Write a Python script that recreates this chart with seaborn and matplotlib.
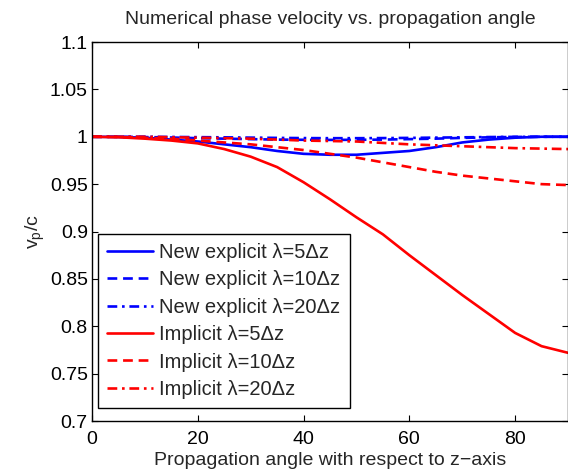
import numpy as np
import pandas as pd
import seaborn as sns
import matplotlib.pyplot as plt

angle = [0, 5, 10, 15, 20, 25, 30, 35, 40, 45, 50, 55, 60, 65, 70, 75, 80, 85, 90]

expl_5 = [1.0, 0.9998, 0.999, 0.997, 0.995, 0.992, 0.989, 0.985, 0.982, 0.981,
          0.981, 0.983, 0.985, 0.989, 0.994, 0.997, 0.999, 1.0, 1.0]
expl_10 = [1.0, 1.0, 0.9997, 0.9992, 0.9985, 0.998, 0.9975, 0.997, 0.9968, 0.9967,
           0.9968, 0.997, 0.9975, 0.998, 0.9988, 0.9994, 0.9998, 1.0, 1.0]
expl_20 = [1.0, 1.0, 1.0, 0.9998, 0.9996, 0.9994, 0.9991, 0.9988, 0.9986, 0.9985,
           0.9985, 0.9986, 0.9988, 0.9991, 0.9994, 0.9997, 0.9999, 1.0, 1.0]
impl_5 = [1.0, 0.9995, 0.998, 0.996, 0.993, 0.987, 0.979, 0.968, 0.952, 0.934,
          0.915, 0.897, 0.875, 0.854, 0.833, 0.813, 0.793, 0.779, 0.772]
impl_10 = [1.0, 0.9998, 0.999, 0.998, 0.996, 0.994, 0.992, 0.989, 0.986, 0.982,
           0.978, 0.973, 0.968, 0.963, 0.959, 0.956, 0.953, 0.950, 0.949]
impl_20 = [1.0, 1.0, 1.0, 0.9995, 0.999, 0.9985, 0.998, 0.997, 0.996, 0.9955,
           0.995, 0.9935, 0.992, 0.991, 0.990, 0.989, 0.988, 0.9875, 0.987]

labels = ["New explicit \u03bb=5\u0394z", "New explicit \u03bb=10\u0394z", "New explicit \u03bb=20\u0394z",
          "Implicit \u03bb=5\u0394z", "Implicit \u03bb=10\u0394z", "Implicit \u03bb=20\u0394z"]
series = [expl_5, expl_10, expl_20, impl_5, impl_10, impl_20]
colors = ["#0000ff", "#0000ff", "#0000ff", "#ff0000", "#ff0000", "#ff0000"]
solid = "-"
dashed = (0, (3.7, 2.2))
dashdot = (0, (3.7, 1.8, 1.0, 1.8))
styles = [solid, dashed, dashdot, solid, dashed, dashdot]

sns.set_style("ticks")
plt.rcParams['font.family'] = ['Liberation Sans', 'DejaVu Sans']
plt.rcParams['mathtext.default'] = 'regular'
plt.rcParams['xtick.direction'] = 'in'
plt.rcParams['ytick.direction'] = 'in'

fig = plt.figure(figsize=(5.68, 4.72), dpi=100)
ax = fig.add_axes([0.162, 0.108, 0.838, 0.803])

for lab, vals, c, ls in zip(labels, series, colors, styles):
    df = pd.DataFrame({"angle": angle, "v": vals})
    sns.lineplot(data=df, x="angle", y="v", color=c, linestyle=ls, linewidth=1.9, label=lab, ax=ax)

ax.set_xlim(0, 90)
ax.set_ylim(0.7, 1.1)
ax.set_xticks([0, 20, 40, 60, 80])
yt = [0.7, 0.75, 0.8, 0.85, 0.9, 0.95, 1.0, 1.05, 1.1]
ax.set_yticks(yt)
ax.set_yticklabels(["0.7", "0.75", "0.8", "0.85", "0.9", "0.95", "1", "1.05", "1.1"])
ax.tick_params(labelsize=14, top=True, right=True, length=4, width=0.8, colors="black")
ax.tick_params(axis="x", pad=7)
ax.tick_params(axis="y", pad=3)
for s in ax.spines.values():
    s.set_visible(True)
    s.set_linewidth(1)
    s.set_color("black")

ax.set_xlabel("Propagation angle with respect to z\u2212axis", fontsize=14, labelpad=3)
ax.set_ylabel("v$_p$/c", fontsize=14, labelpad=2)
ax.set_title("Numerical phase velocity vs. propagation angle", fontsize=14, pad=13)

leg = ax.legend(loc="lower left", bbox_to_anchor=(6 / 476, 13 / 379), borderaxespad=0,
                fontsize=14.5, handlelength=2.3, frameon=True, fancybox=False,
                labelspacing=0.42, handletextpad=0.3, borderpad=0.45)
leg.get_frame().set_edgecolor("black")
leg.get_frame().set_linewidth(1)
leg.get_frame().set_alpha(1)

fig.savefig("out.png", dpi=100)
